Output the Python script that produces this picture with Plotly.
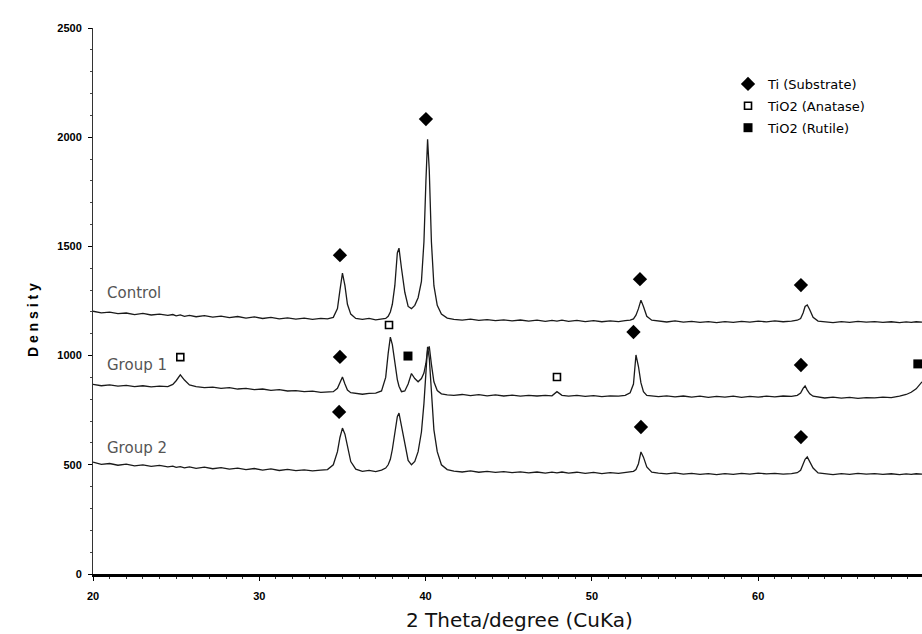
import plotly.graph_objects as go

# ---------------- data ----------------
two_theta = [
    20.0, 20.5, 21.0, 21.5, 22.0, 22.5, 23.0, 23.5, 24.0, 24.5,
    24.8, 25.0, 25.25, 25.5, 25.8,
    26.2, 26.7, 27.2, 27.7, 28.2, 28.7, 29.2, 29.7, 30.2, 30.7, 31.2, 31.7, 32.2, 32.7, 33.2, 33.7, 34.1,
    34.45, 34.7, 34.85, 35.0, 35.15, 35.3, 35.5, 35.8,
    36.2, 36.6, 37.0, 37.35,
    37.6, 37.75, 37.88, 38.0, 38.15, 38.3, 38.4, 38.55, 38.75, 38.95, 39.15, 39.35, 39.55, 39.75,
    39.9, 40.02, 40.12, 40.22, 40.35, 40.5, 40.7, 40.95, 41.3,
    41.7, 42.2, 42.7, 43.2, 43.7, 44.2, 44.7, 45.2, 45.7, 46.2, 46.7, 47.2, 47.6,
    47.9, 48.2,
    48.6, 49.1, 49.6, 50.1, 50.6, 51.1, 51.6, 52.0, 52.3,
    52.5, 52.65, 52.8, 52.95, 53.1, 53.3, 53.6,
    54.0, 54.5, 55.0, 55.5, 56.0, 56.5, 57.0, 57.5, 58.0, 58.5, 59.0, 59.5, 60.0, 60.5, 61.0, 61.5, 62.0, 62.35,
    62.55, 62.7, 62.82, 62.95, 63.1, 63.3, 63.6,
    64.0, 64.5, 65.0, 65.5, 66.0, 66.5, 67.0, 67.5, 68.0, 68.5, 68.9, 69.2, 69.5, 69.85,
]

control = [
    1203, 1196, 1199, 1192, 1195, 1188, 1193, 1186, 1190, 1184,
    1188, 1182, 1186, 1180, 1184,
    1178, 1183, 1176, 1181, 1174, 1179, 1172, 1177, 1170, 1175, 1168, 1173, 1167, 1172, 1166, 1170, 1168,
    1175, 1215, 1300, 1378, 1320, 1235, 1190, 1170,
    1166, 1170, 1164, 1168,
    1170, 1180, 1200, 1235, 1320, 1470, 1492, 1400, 1290, 1225, 1215, 1230, 1265, 1340,
    1520, 1800, 1990, 1850, 1520, 1320, 1230, 1190, 1172,
    1166, 1162, 1167, 1161, 1165, 1160, 1164, 1159, 1163, 1158, 1162, 1157, 1161,
    1158, 1162,
    1157, 1161, 1156, 1160, 1155, 1159, 1156, 1160, 1162,
    1168, 1185, 1215, 1254, 1225, 1180, 1162,
    1158, 1154, 1159, 1153, 1157, 1152, 1156, 1151, 1156, 1152, 1157, 1153, 1158, 1154, 1159, 1155, 1158, 1162,
    1170, 1195, 1225, 1232, 1210, 1175, 1158,
    1155, 1151, 1156, 1152, 1157, 1153, 1156, 1152, 1155, 1151, 1154, 1152, 1155, 1153,
]

group1 = [
    868, 862, 866, 860, 864, 858, 862, 857, 860, 858,
    868, 885, 912, 888, 866,
    858, 853, 856, 850, 853, 847, 850, 844, 847, 841, 844, 838, 840, 835, 837, 832, 834,
    835, 850, 878, 902, 870, 842, 830, 827,
    823, 827, 828, 838,
    900, 1010, 1085, 1050, 960, 890, 860, 835, 838, 870, 918, 895, 880, 895,
    920, 965, 1025, 1042, 960, 880, 840, 825, 820,
    818, 822, 817, 821, 816, 820, 815, 819, 814, 818, 815, 818, 816,
    835, 818,
    814, 818, 813, 817, 812, 816, 814, 818, 830,
    870, 1003, 950, 875, 835, 818, 815,
    812, 816, 811, 815, 810, 814, 809, 813, 810, 814, 809, 813, 810, 814, 811, 815, 813, 818,
    828, 850, 861, 842, 825, 814, 810,
    806, 810, 805, 809, 804, 808, 806, 810, 808, 814, 822, 832, 848, 880,
]

group2 = [
    512, 502, 506, 498, 503, 495, 500, 493, 497, 491,
    494, 488, 492, 486, 490,
    484, 489, 482, 487, 480, 485, 478, 483, 476, 481, 474, 479, 473, 477, 472, 476, 478,
    500, 560, 625, 668, 640, 580, 515, 480,
    470, 474, 469, 476,
    485, 500, 525, 570, 640, 720, 737, 680, 590, 520, 500, 515, 560, 650,
    780, 920, 1040, 990, 820, 660, 560, 500, 478,
    471, 467, 472, 466, 470, 465, 469, 464, 468, 463, 467, 462, 466,
    463, 467,
    462, 466, 461, 465, 460, 464, 461, 465, 466,
    470, 478, 505, 559, 535, 490, 466,
    462, 458, 463, 457, 461, 456, 460, 455, 460, 456, 461, 457, 462, 458, 461, 457, 460, 464,
    475, 500, 525, 536, 515, 485, 463,
    459, 455, 460, 456, 461, 457, 460, 456, 459, 455, 458, 456, 459, 457,
]

series_names = ["Control", "Group 1", "Group 2"]
series_label_theta = [20.75, 20.75, 20.75]
series_label_counts = [1287, 957, 577]

# phase markers
ti_theta = [34.85, 40.02, 52.89, 62.57, 34.85, 52.5, 62.57, 34.8, 52.95, 62.57]
ti_counts = [1460, 2083, 1350, 1323, 994, 1108, 957, 742, 673, 627]
anatase_theta = [25.25, 37.8, 47.9]
anatase_counts = [993, 1140, 902]
rutile_theta = [38.94, 69.6]
rutile_counts = [998, 962]

legend_names = ["Ti (Substrate)", "TiO2 (Anatase)", "TiO2 (Rutile)"]

x_ticks = [20, 30, 40, 50, 60, 70]
y_ticks = [0, 500, 1000, 1500, 2000, 2500]

# ---------------- figure ----------------
fig = go.Figure()
line_style = dict(color="#1a1a1a", width=1.3)
for vals in (control, group1, group2):
    fig.add_trace(go.Scatter(x=two_theta, y=vals, mode="lines", line=line_style,
                             showlegend=False, hoverinfo="skip"))

fig.add_trace(go.Scatter(x=ti_theta, y=ti_counts, mode="markers", name=legend_names[0],
                         legendgroup="a", cliponaxis=False,
                         marker=dict(symbol="diamond", size=11, color="black")))
fig.add_trace(go.Scatter(x=anatase_theta, y=anatase_counts, mode="markers", name=legend_names[1],
                         legendgroup="b", cliponaxis=False,
                         marker=dict(symbol="square-open", size=7, color="black",
                                     line=dict(width=1.6, color="black"))))
fig.add_trace(go.Scatter(x=rutile_theta, y=rutile_counts, mode="markers", name=legend_names[2],
                         legendgroup="c", cliponaxis=False,
                         marker=dict(symbol="square", size=9, color="black")))

for name, tx, ty in zip(series_names, series_label_theta, series_label_counts):
    fig.add_annotation(x=tx, y=ty, text=name, showarrow=False, xanchor="left", yanchor="middle",
                       font=dict(family="DejaVu Sans", size=15, color="#555555"))

fig.add_annotation(xref="paper", yref="paper", x=-0.0845, y=0.465, text="D e n s i t y",
                   textangle=-90, showarrow=False,
                   font=dict(family="Liberation Sans", size=14, color="black", weight="bold"))
fig.add_annotation(xref="paper", yref="paper", x=0.514, y=-0.084, yanchor="middle",
                   text="2 Theta/degree (CuKa)", showarrow=False,
                   font=dict(family="DejaVu Sans", size=20, color="#111111"))

fig.update_xaxes(range=[20, 69.85], tickvals=x_ticks, ticktext=[str(v) for v in x_ticks],
                 showline=True, linecolor="black", linewidth=3, mirror=False,
                 ticks="outside", ticklen=4, tickwidth=1, tickcolor="black",
                 minor=dict(ticks="outside", ticklen=2, dtick=1, tickcolor="#333"),
                 showgrid=False, zeroline=False,
                 tickfont=dict(family="Liberation Sans", size=11, color="black", weight="bold"),
                 ticklabelstandoff=6)
fig.update_yaxes(range=[0, 2500], tickvals=y_ticks, ticktext=[str(v) for v in y_ticks],
                 showline=True, linecolor="#333333", linewidth=1,
                 ticks="outside", ticklen=4, tickwidth=1, tickcolor="black",
                 minor=dict(ticks="outside", ticklen=2, dtick=100, tickcolor="#444"),
                 showgrid=False, zeroline=False,
                 tickfont=dict(family="Liberation Sans", size=11, color="black", weight="bold"),
                 ticklabelstandoff=4)

fig.update_layout(
    width=922, height=634,
    margin=dict(l=93, r=0, t=28, b=60),
    paper_bgcolor="white", plot_bgcolor="white",
    showlegend=True,
    legend=dict(x=0.766, y=0.925, xanchor="left", yanchor="top",
                font=dict(family="DejaVu Sans", size=13, color="black"),
                bgcolor="rgba(0,0,0,0)", tracegroupgap=2, itemsizing="trace"),
)

fig.write_html("out.html",
               config={"displayModeBar": False},
               post_script="document.body.style.margin='0';document.body.style.overflow='hidden';")
